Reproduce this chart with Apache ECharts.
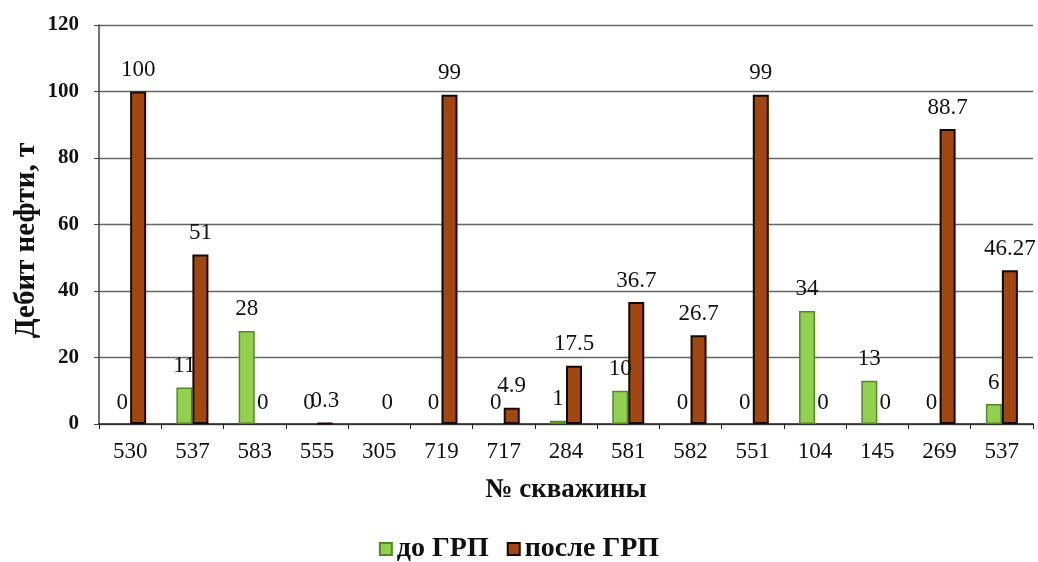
<!DOCTYPE html>
<html>
<head>
<meta charset="utf-8">
<script src="https://cdn.jsdelivr.net/npm/echarts@6/dist/echarts.min.js"></script>
<style>
  html, body { margin: 0; padding: 0; background: #fff; }
  #chart { width: 1038px; height: 562px; }
</style>
</head>
<body>
<div id="chart"></div>
<script>
// Well numbers along the x axis
const wells = ['530', '537', '583', '555', '305', '719', '717', '284', '581', '582', '551', '104', '145', '269', '537'];
// Oil flow rate before hydraulic fracturing (null = no value)
const beforeFrac = [0, 11, 28, 0, null, 0, 0, 1, 10, 0, 0, 34, 13, 0, 6];
// Oil flow rate after hydraulic fracturing
const afterFrac = [100, 51, 0, 0.3, 0, 99, 4.9, 17.5, 36.7, 26.7, 99, 0, 0, 88.7, 46.27];
// Y axis ticks
const yTicks = { min: 0, max: 120, interval: 20 };

const serif = '"Liberation Serif", "DejaVu Serif", serif';

const labelStyle = {
  show: true,
  position: 'top',
  distance: 10,
  fontFamily: serif,
  fontSize: 23,
  color: '#111',
  formatter: p => String(p.value)
};

// zero-height bars get no outline so only their label shows
const toItems = arr => arr.map(v => (v === 0 ? { value: 0, itemStyle: { borderWidth: 0 } } : v));

const chart = echarts.init(document.getElementById('chart'), null, { renderer: 'canvas' });
chart.setOption({
  animation: false,
  backgroundColor: '#fff',
  grid: { left: 99, right: 5, top: 25, bottom: 138, containLabel: false, outerBoundsMode: 'none' },
  legend: {
    top: 530,
    left: 'center',
    itemWidth: 12,
    itemHeight: 12,
    itemGap: 18,
    icon: 'rect',
    textStyle: { fontFamily: serif, fontSize: 28, fontWeight: 'bold', color: '#111' },
    data: ['до ГРП', 'после ГРП']
  },
  xAxis: {
    type: 'category',
    data: wells,
    name: '№ скважины',
    nameLocation: 'middle',
    nameGap: 53,
    nameMoveOverlap: false,
    nameTextStyle: { fontFamily: serif, fontSize: 27, fontWeight: 'bold', color: '#111' },
    axisLine: { lineStyle: { color: '#222', width: 1.5 } },
    axisTick: { show: true, alignWithLabel: false, length: 5, lineStyle: { color: '#222' } },
    axisLabel: { fontFamily: serif, fontSize: 23, color: '#111', margin: 16, interval: 0 }
  },
  yAxis: {
    type: 'value',
    min: yTicks.min,
    max: yTicks.max,
    interval: yTicks.interval,
    name: 'Дебит нефти, т',
    nameLocation: 'middle',
    nameGap: 58,
    nameMoveOverlap: false,
    nameTextStyle: { fontFamily: serif, fontSize: 29, fontWeight: 'bold', color: '#111', padding: [0, 32, 0, 0] },
    axisLine: { show: true, lineStyle: { color: '#444', width: 1.5 } },
    axisTick: { show: true, length: 5, lineStyle: { color: '#444' } },
    axisLabel: { fontFamily: serif, fontSize: 21, fontWeight: 'bold', color: '#111', margin: 20 },
    splitLine: { show: true, lineStyle: { color: '#666', width: 1.3 } }
  },
  series: [
    {
      name: 'до ГРП',
      type: 'bar',
      data: toItems(beforeFrac),
      barWidth: 16,
      barGap: '0%',
      itemStyle: { color: '#92d050', borderColor: '#4f8a22', borderWidth: 1.5 },
      label: labelStyle
    },
    {
      name: 'после ГРП',
      type: 'bar',
      data: toItems(afterFrac),
      barWidth: 16,
      barGap: '0%',
      itemStyle: { color: '#a2470f', borderColor: '#160800', borderWidth: 2 },
      label: labelStyle
    }
  ]
});
</script>
</body>
</html>
